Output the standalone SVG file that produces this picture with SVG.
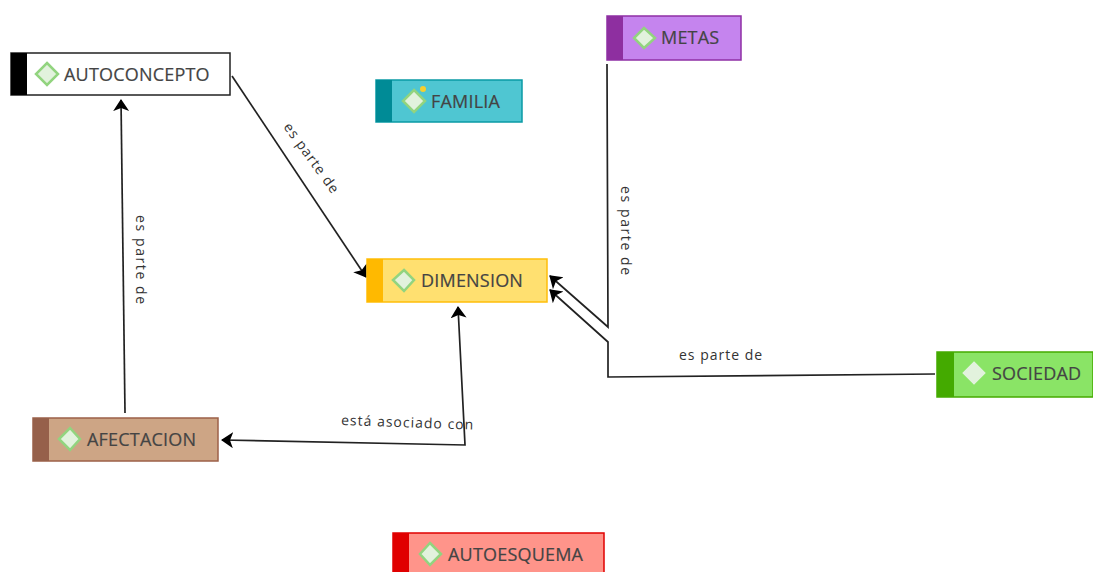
<svg xmlns="http://www.w3.org/2000/svg" width="1093" height="572" viewBox="0 0 1093 572">
<style>
text{font-family:"Open Sans","Noto Sans","Liberation Sans",sans-serif}
.n{font-size:18px;fill:#444;letter-spacing:.2px;stroke:#444;stroke-width:.2}
.l{font-size:14px;fill:#333;letter-spacing:1px}
.v{letter-spacing:1.6px}
.d{fill:#e2f2dd;stroke:#92d47f;stroke-width:2.5}
.c{fill:none;stroke:#222;stroke-width:1.7}
</style>
<defs>
<marker id="a" markerUnits="userSpaceOnUse" markerWidth="16" markerHeight="18" refX="11" refY="8" orient="auto-start-reverse"><path d="M0 0L12 8L0 16L3 8Z" fill="#000"/></marker>
</defs>
<rect width="1093" height="572" fill="#fff"/>
<g id="connectors">
<path class="c" d="M232 76L366 277" marker-end="url(#a)"/>
<path class="c" d="M125 413L121 100" marker-end="url(#a)"/>
<path class="c" d="M607 64L608 327L550 276" marker-end="url(#a)"/>
<path class="c" d="M935 374L608 377L608 342L550 290" marker-end="url(#a)"/>
<path class="c" d="M222 440L465 445L458 307" marker-start="url(#a)" marker-end="url(#a)"/>
<text class="l" transform="translate(283 127) rotate(54)">es parte de</text>
<text class="l v" transform="translate(136 215) rotate(90)">es parte de</text>
<text class="l v" transform="translate(621 186) rotate(90)">es parte de</text>
<text class="l" x="679" y="360">es parte de</text>
<text class="l" transform="translate(341 425) rotate(2)">está asociado con</text>
</g>
<g id="autoconcepto">
<rect x="11" y="53" width="219" height="42" fill="#fff" stroke="#222" stroke-width="1.5"/>
<rect x="11" y="53" width="16" height="42" fill="#000"/>
<path class="d" d="M47 63L58 74L47 85L36 74Z"/>
<text class="n" x="64" y="81">AUTOCONCEPTO</text>
</g>
<g id="familia">
<rect x="376" y="80" width="146" height="42" fill="#4fc6d2" stroke="#0a9aa5" stroke-width="1.5"/>
<rect x="376" y="80" width="16" height="42" fill="#008b96"/>
<path class="d" d="M414 90L425 101L414 112L403 101Z"/>
<circle cx="423" cy="89" r="3" fill="#f5cf2e"/>
<text class="n" x="431" y="108">FAMILIA</text>
</g>
<g id="metas">
<rect x="607" y="16" width="134" height="44" fill="#c584ee" stroke="#8e2fa5" stroke-width="1.5"/>
<rect x="607" y="16" width="16" height="44" fill="#8e2fa0"/>
<path class="d" d="M644 28L655 38L644 48L634 38Z"/>
<text class="n" x="661" y="44">METAS</text>
</g>
<g id="dimension">
<rect x="367" y="259" width="180" height="43" fill="#ffe070" stroke="#ffbe0a" stroke-width="1.5"/>
<rect x="367" y="259" width="16" height="43" fill="#ffb900"/>
<path class="d" d="M404 270L414 280L404 291L393 280Z"/>
<text class="n" x="421" y="287">DIMENSION</text>
</g>
<g id="sociedad">
<rect x="937" y="352" width="156" height="45" fill="#8ae466" stroke="#44aa00" stroke-width="1.5"/>
<rect x="937" y="352" width="17" height="45" fill="#44aa00"/>
<path class="d" d="M974 363L984 373L974 383L964 373Z" style="stroke:#e2f2dd"/>
<text class="n" x="992" y="380">SOCIEDAD</text>
</g>
<g id="afectacion">
<rect x="33" y="418" width="185" height="43" fill="#cda585" stroke="#9c6048" stroke-width="1.5"/>
<rect x="33" y="418" width="16" height="43" fill="#96604a"/>
<path class="d" d="M70 428L80 439L70 450L59 439Z"/>
<text class="n" x="87" y="446">AFECTACION</text>
</g>
<g id="autoesquema">
<rect x="393" y="533" width="211" height="44" fill="#ff948a" stroke="#e00000" stroke-width="1.5"/>
<rect x="393" y="533" width="16" height="44" fill="#e00000"/>
<path class="d" d="M430 543L441 554L430 565L420 554Z"/>
<text class="n" x="448" y="561">AUTOESQUEMA</text>
</g>
</svg>
